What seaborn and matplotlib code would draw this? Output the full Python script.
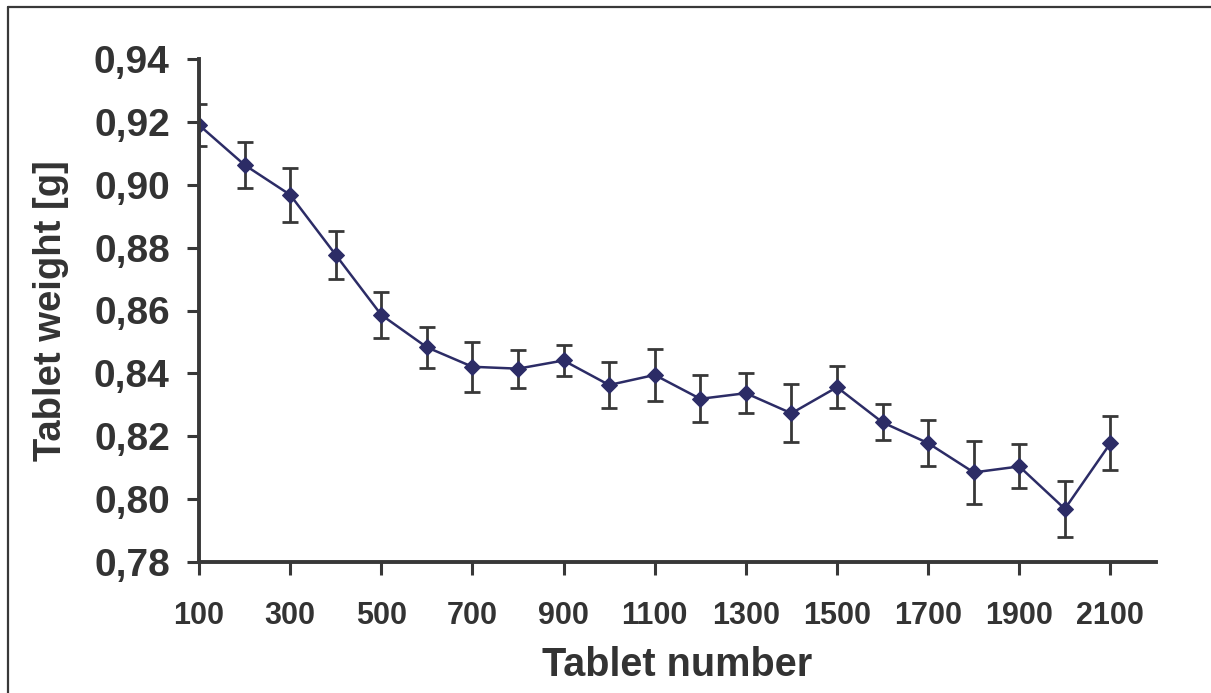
import matplotlib
matplotlib.use("Agg")
import matplotlib.pyplot as plt
import seaborn as sns
import pandas as pd
from matplotlib.lines import Line2D

# ---- data ----
tablet_number = [100, 200, 300, 400, 500, 600, 700, 800, 900, 1000, 1100,
                 1200, 1300, 1400, 1500, 1600, 1700, 1800, 1900, 2000, 2100]
weight_mean = [0.9190, 0.9063, 0.8968, 0.8777, 0.8586, 0.8483, 0.8421, 0.8415,
               0.8441, 0.8363, 0.8395, 0.8319, 0.8337, 0.8273, 0.8356, 0.8244,
               0.8178, 0.8085, 0.8104, 0.7969, 0.8178]
weight_err = [0.0067, 0.0073, 0.0086, 0.0076, 0.0073, 0.0065, 0.0080, 0.0060,
              0.0050, 0.0073, 0.0083, 0.0075, 0.0064, 0.0092, 0.0066, 0.0057,
              0.0073, 0.0101, 0.0070, 0.0089, 0.0086]
x_ticks = [100, 300, 500, 700, 900, 1100, 1300, 1500, 1700, 1900, 2100]
y_ticks = [0.78, 0.80, 0.82, 0.84, 0.86, 0.88, 0.90, 0.92, 0.94]
y_ticklabels = ["0,78", "0,80", "0,82", "0,84", "0,86", "0,88", "0,90", "0,92", "0,94"]
x_title = "Tablet number"
y_title = "Tablet weight [g]"

df = pd.DataFrame({"n": tablet_number, "w": weight_mean, "e": weight_err})

# ---- style ----
sns.set_theme(style="white")
plt.rcParams["font.family"] = ["Liberation Sans", "DejaVu Sans"]
plt.rcParams["font.weight"] = "bold"

TXT = "#333333"
LINE = "#2c2c66"
GRAY = "#383838"

fig = plt.figure(figsize=(12.11, 6.93), dpi=100)
ax = fig.add_axes([199 / 1211, 1 - 562 / 693, (1156 - 199) / 1211, (562 - 59) / 693])

ax.errorbar(df["n"], df["w"], yerr=df["e"], fmt="none", ecolor=GRAY,
            elinewidth=2.0, capsize=5.5, capthick=2.0, zorder=2)
sns.lineplot(data=df, x="n", y="w", ax=ax, color=LINE, linewidth=1.8,
             marker="D", markersize=8, markeredgecolor=LINE,
             markerfacecolor=LINE, zorder=3)

ax.set_xlim(100, 2200)
ax.set_ylim(0.78, 0.94)
ax.set_xticks(x_ticks)
ax.set_xticklabels([str(v) for v in x_ticks])
ax.set_yticks(y_ticks)
ax.set_yticklabels(y_ticklabels)

for s in ["top", "right"]:
    ax.spines[s].set_visible(False)
for s in ["left", "bottom"]:
    ax.spines[s].set_color(GRAY)
    ax.spines[s].set_linewidth(2.8)
    ax.spines[s].set_zorder(4)

ax.tick_params(axis="both", direction="out", length=9, width=2.2, color=GRAY,
               left=True, bottom=True)
ax.tick_params(axis="y", labelsize=28, labelcolor=TXT, pad=12)
ax.tick_params(axis="x", labelsize=22, labelcolor=TXT, pad=19)
for lab in ax.get_xticklabels() + ax.get_yticklabels():
    lab.set_fontweight("bold")

ax.set_xlabel(x_title, fontsize=28.5, fontweight="bold", color=TXT, labelpad=11)
ax.set_ylabel(y_title, fontsize=27.5, fontweight="bold", color=TXT, labelpad=18)
ax.grid(False)

# figure border (left and top only visible)
fig.add_artist(Line2D([7.5 / 1211, 7.5 / 1211], [0, 1 - 6.5 / 693],
                      transform=fig.transFigure, color=GRAY, linewidth=1.6))
fig.add_artist(Line2D([7.5 / 1211, 1], [1 - 6.5 / 693, 1 - 6.5 / 693],
                      transform=fig.transFigure, color=GRAY, linewidth=1.6))

fig.savefig("out.png", dpi=100)
